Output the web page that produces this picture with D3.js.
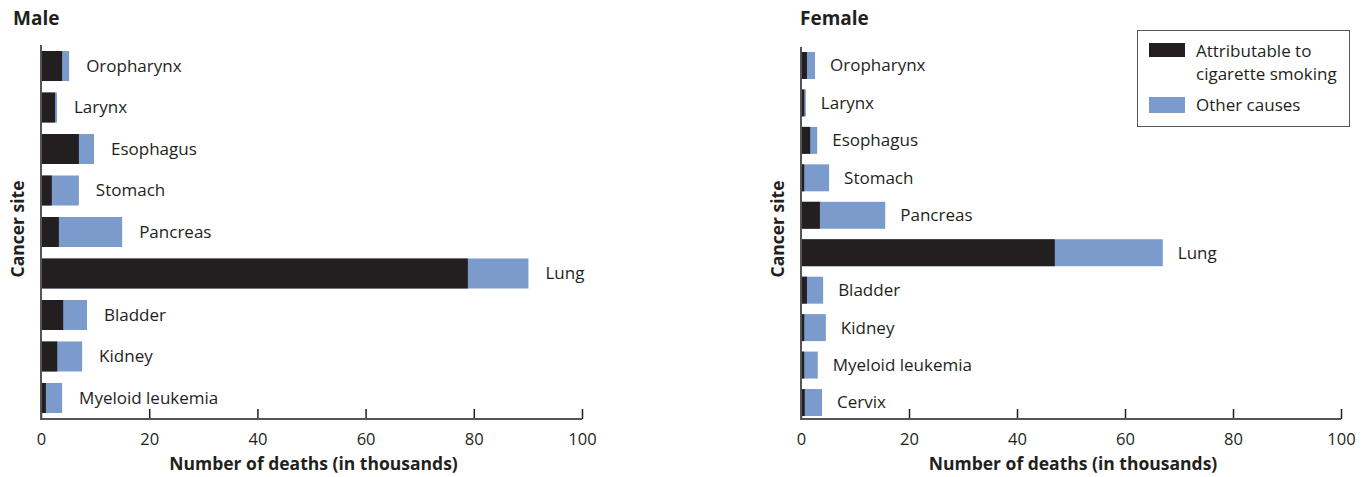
<!DOCTYPE html>
<html><head><meta charset="utf-8">
<script src="https://cdn.jsdelivr.net/npm/d3@7"></script>
<style>body{margin:0;background:#fff}svg{display:block}text{font-family:"Open Sans",sans-serif;fill:#231f20}</style>
</head><body><svg id="c" width="1372" height="477"></svg>
<script>
const maleSites = ["Oropharynx","Larynx","Esophagus","Stomach","Pancreas","Lung","Bladder","Kidney","Myeloid leukemia"];
const maleSmoking = [3.9,2.6,7.0,2.0,3.3,78.9,4.1,3.0,0.9];
const maleTotal = [5.2,2.95,9.8,7.0,15.0,90.1,8.5,7.6,3.9];
const femaleSites = ["Oropharynx","Larynx","Esophagus","Stomach","Pancreas","Lung","Bladder","Kidney","Myeloid leukemia","Cervix"];
const femaleSmoking = [1.1,0.6,1.7,0.6,3.5,47.0,1.1,0.6,0.6,0.7];
const femaleTotal = [2.6,0.9,3.0,5.2,15.6,67.0,4.1,4.6,3.1,3.9];
const xTicks = [0,20,40,60,80,100];
const legendLabels = [["Attributable to","cigarette smoking"],["Other causes"]];

const BLACK="#231f20", BLUE="#7a9bcb", AXIS="#555";
const svg = d3.select("#c");

function panel(o){
  const g = svg.append("g");
  const x = d3.scaleLinear().domain([0,100]).range([o.x0,o.x1]);
  const y = d3.scaleBand().domain(o.sites).range([o.yTop,o.yBot]).paddingInner(o.pi).paddingOuter(o.po);
  o.sites.forEach((s,i)=>{
    g.append("rect").attr("x",x(0)).attr("y",y(s)).attr("width",x(o.total[i])-x(0)).attr("height",y.bandwidth()).attr("fill",BLUE);
    g.append("rect").attr("x",x(0)).attr("y",y(s)).attr("width",x(o.smoke[i])-x(0)).attr("height",y.bandwidth()).attr("fill",BLACK);
    g.append("text").attr("x",x(o.total[i])+o.lg).attr("y",y(s)+y.bandwidth()/2).attr("dy","0.35em")
      .attr("font-size",17).text(s);
  });
  const ax = g.append("g").attr("transform",`translate(0,${o.axisY})`)
    .call(d3.axisBottom(x).tickValues(xTicks).tickSize(-10).tickPadding(14).tickFormat(d3.format("d")));
  ax.select(".domain").remove();
  ax.selectAll(".tick line").attr("stroke",BLACK).attr("stroke-width",1.5);
  ax.selectAll(".tick text").attr("font-size",16.5).attr("font-family","Open Sans").attr("fill",BLACK);
  g.append("line").attr("x1",o.x0-1).attr("x2",o.x1).attr("y1",o.axisY).attr("y2",o.axisY).attr("stroke",AXIS).attr("stroke-width",2);
  g.append("line").attr("x1",o.x0).attr("x2",o.x0).attr("y1",o.axisTop).attr("y2",o.axisY).attr("stroke",AXIS).attr("stroke-width",2);
  g.append("text").attr("x",o.tx).attr("y",25).attr("font-size",19).attr("font-weight","bold").text(o.title);
  g.append("text").attr("transform",`translate(${o.ylx},229) rotate(-90)`).attr("text-anchor","middle")
    .attr("font-size",17.5).attr("font-weight","bold").text("Cancer site");
  g.append("text").attr("x",(o.x0+o.x1)/2+2).attr("y",470).attr("text-anchor","middle")
    .attr("font-size",17.5).attr("font-weight","bold").text("Number of deaths (in thousands)");
}

panel({sites:maleSites,smoke:maleSmoking,total:maleTotal,x0:41,x1:582,yTop:45,yBot:419,axisTop:45,axisY:419,pi:0.277,po:0.145,lg:17,title:"Male",tx:13,ylx:24});
panel({sites:femaleSites,smoke:femaleSmoking,total:femaleTotal,x0:801,x1:1341,yTop:49,yBot:419,axisTop:47,axisY:419,pi:0.28,po:0.08,lg:15,title:"Female",tx:800,ylx:784});

const lg = svg.append("g");
lg.append("rect").attr("x",1137.5).attr("y",30.5).attr("width",212).attr("height",96).attr("fill","#fff").attr("stroke",AXIS).attr("stroke-width",1);
lg.append("rect").attr("x",1149).attr("y",43).attr("width",36).attr("height",14).attr("fill",BLACK);
lg.append("rect").attr("x",1149).attr("y",97).attr("width",36).attr("height",16).attr("fill",BLUE);
lg.append("text").attr("x",1196).attr("y",57).attr("font-size",17).text(legendLabels[0][0]);
lg.append("text").attr("x",1196).attr("y",80).attr("font-size",17).text(legendLabels[0][1]);
lg.append("text").attr("x",1196).attr("y",111).attr("font-size",17).text(legendLabels[1][0]);
</script></body></html>
